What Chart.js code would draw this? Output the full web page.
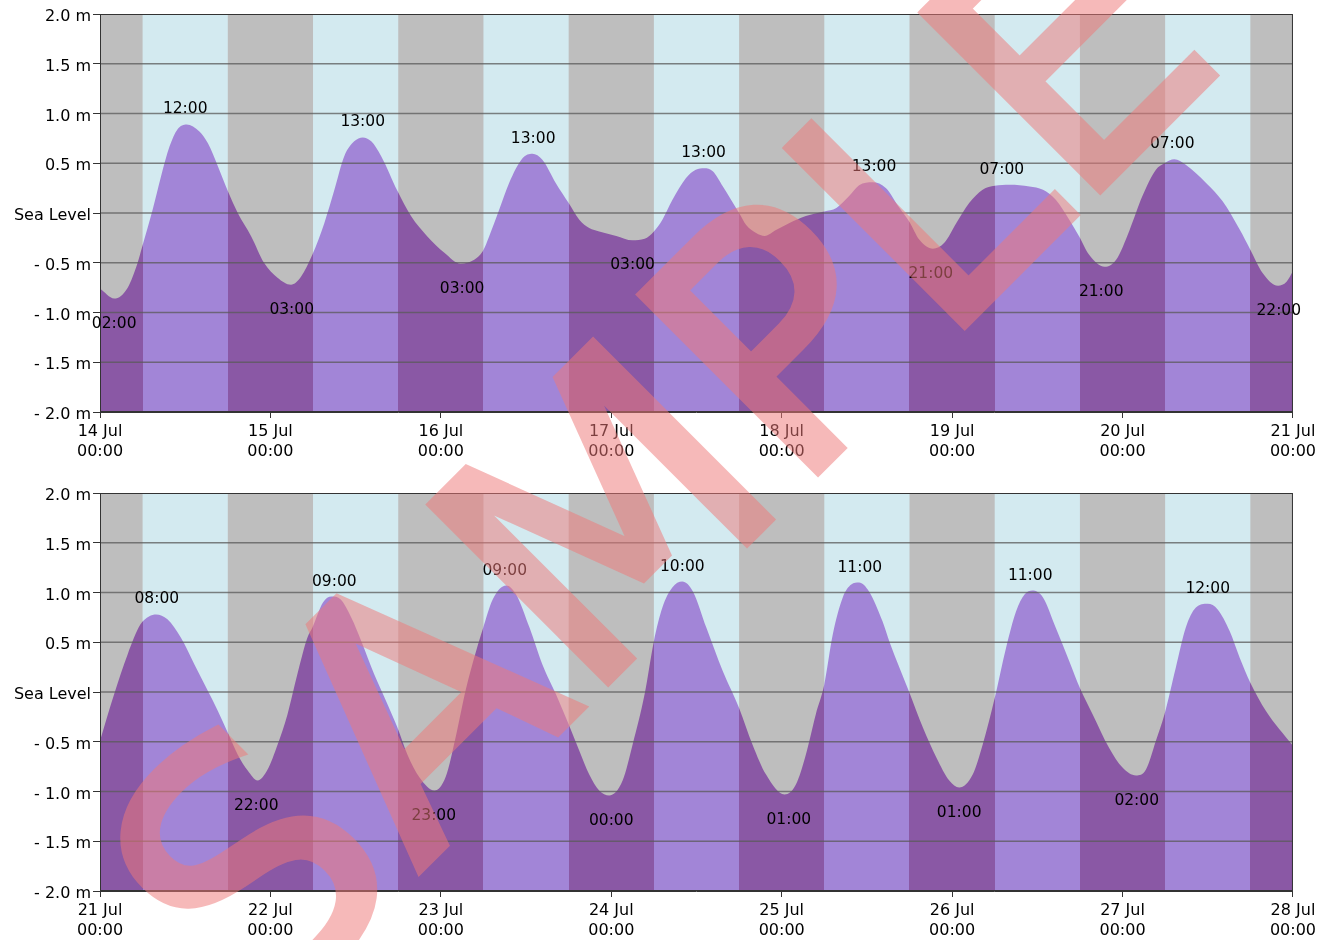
<!DOCTYPE html>
<html>
<head>
<meta charset="utf-8">
<title>Tide chart</title>
<script src="https://cdn.jsdelivr.net/npm/chart.js@4.4.1/dist/chart.umd.min.js"></script>
<style>
  html, body { margin: 0; padding: 0; background: #fff; width: 1319px; height: 940px; overflow: hidden; }
  canvas { position: absolute; left: 0; }
  #week1 { top: 0; }
  #week2 { top: 479px; }
  #mark { position: absolute; left: 0; top: 0; pointer-events: none; }
</style>
</head>
<body>
<canvas id="week1" width="1319" height="479"></canvas>
<canvas id="week2" width="1319" height="479"></canvas>
<svg id="mark" width="1319" height="940">
  <g opacity="0.52">
    <text transform="translate(259 1031) rotate(-45)" font-family="DejaVu Sans" font-size="344"
          fill="rgb(238,122,122)" stroke="rgb(238,122,122)" stroke-width="8">SAMPLE</text>
  </g>
</svg>
<script>
// ---------------- data ----------------
// hours counted from the first day 00:00 of each panel, level in metres
const week1Days = ["14 Jul", "15 Jul", "16 Jul", "17 Jul", "18 Jul", "19 Jul", "20 Jul", "21 Jul"];
const week2Days = ["21 Jul", "22 Jul", "23 Jul", "24 Jul", "25 Jul", "26 Jul", "27 Jul", "28 Jul"];
const dayTime = "00:00";

const yTickLabels = ["- 2.0 m", "- 1.5 m", "- 1.0 m", "- 0.5 m", "Sea Level", "0.5 m", "1.0 m", "1.5 m", "2.0 m"];

// daylight band: sunrise / sunset hour
const sunrise = 6;
const sunset = 18;

const week1Hours = [
  0, 2, 3.9, 5.3, 5.9, 7.4, 8.6, 9.8, 10.9, 12.2, 14, 15.2, 16.6, 18, 19.4, 21.3, 23.1,
  25, 26.9, 28.3, 29.9, 31.6, 33, 34.4, 35.8, 37, 38.2, 39.6, 41.9, 43.8, 46.1,
  48.5, 50.8, 52.7, 53.9, 54.8, 56.2, 57.6, 59.5, 60.9, 62.3, 64.2, 66, 67.5, 68.9, 70.3,
  72.7, 75, 76.7, 78, 79.2, 80.6, 82.5, 83.9, 85.1, 86.3, 87.7, 90, 91, 92.4, 93.6, 95.2,
  97.1, 99.4, 102, 103.7, 105.5, 106.9, 108.8, 110.7, 112.6, 114, 115.4, 117.3, 118.9,
  120.6, 122.4, 124.3, 126, 128.1, 130.9, 132.8, 134.6, 136.5, 137.9, 139.3, 141.5, 143.1,
  145, 146.8, 148.7, 149.9, 151.3, 152.9, 155.8, 158.1, 160.5, 162, 163.7, 165.9, 167.1, 168
];
const week1Levels = [
  -0.76, -0.86, -0.75, -0.5, -0.35, 0.03, 0.37, 0.67, 0.84, 0.89, 0.82, 0.7, 0.47, 0.22, 0, -0.235, -0.5,
  -0.65, -0.72, -0.64, -0.42, -0.1, 0.23, 0.57, 0.72, 0.76, 0.72, 0.57, 0.22, -0.03, -0.235,
  -0.4, -0.51, -0.47, -0.385, -0.235, 0.03, 0.3, 0.55, 0.595, 0.535, 0.3, 0.1, -0.067, -0.15, -0.185,
  -0.23, -0.275, -0.26, -0.185, -0.067, 0.13, 0.35, 0.435, 0.45, 0.42, 0.27, 0, -0.12, -0.2, -0.23, -0.17,
  -0.1, -0.03, 0.015, 0.05, 0.17, 0.28, 0.31, 0.25, 0.05, -0.09, -0.27, -0.36, -0.3,
  -0.1, 0.1, 0.234, 0.274, 0.284, 0.267, 0.234, 0.134, -0.067, -0.235, -0.42, -0.54, -0.47,
  -0.17, 0.17, 0.435, 0.5, 0.54, 0.485, 0.3, 0.117, -0.167, -0.37, -0.6, -0.73, -0.69, -0.585
];

const week2Hours = [
  0, 2, 3.9, 5.7, 6.9, 7.9, 9.5, 11.4, 13.3, 15.2, 16.6, 18, 19.4, 20.8, 22.2, 23.6,
  25, 26.4, 27.8, 29.2, 29.9, 31.4, 32.6, 33.9, 35.4, 36.8, 38.6, 40.5, 41.9, 43.3, 45, 47.1,
  48.7, 50.1, 51.5, 53, 53.9, 55.3, 57.2, 58.6, 60.5, 62.3, 64.2, 66, 67.5, 68.9, 70.3, 71.7,
  73.6, 75, 76.7, 78, 79.2, 80.6, 82, 83.5, 85.4, 87.7, 90, 91.9, 93.8, 96.4,
  98, 99.4, 100.8, 102, 103.2, 104.6, 105.8, 106.9, 108.3, 110.2, 111.2, 113.9, 115.9, 117.8, 119.6,
  121, 122.9, 124.3, 126, 127.6, 129, 130.2, 131.3, 132.8, 134.6, 136.5, 138, 139.8, 142.1,
  144, 145.9, 147.3, 148.7, 149.9, 151.5, 152.9, 154.3, 156, 157.4, 159.1, 160.5, 162, 164.2, 168
];
const week2Levels = [
  -0.49, -0.02, 0.38, 0.68, 0.76, 0.78, 0.73, 0.545, 0.277, 0.01, -0.19, -0.41, -0.63, -0.79, -0.89, -0.78,
  -0.53, -0.225, 0.18, 0.545, 0.645, 0.9, 0.96, 0.93, 0.746, 0.51, 0.18, -0.125, -0.36, -0.63, -0.86, -0.99,
  -0.85, -0.45, 0.02, 0.42, 0.63, 0.93, 1.07, 0.98, 0.645, 0.277, -0.02, -0.325, -0.59, -0.83, -0.99, -1.04,
  -0.89, -0.53, -0.02, 0.51, 0.85, 1.05, 1.11, 1.01, 0.645, 0.21, -0.16, -0.53, -0.83, -1.03,
  -0.93, -0.63, -0.225, 0.076, 0.58, 0.95, 1.08, 1.1, 1.01, 0.71, 0.5, 0.01, -0.36, -0.66, -0.89,
  -0.96, -0.83, -0.53, -0.06, 0.445, 0.81, 0.98, 1.02, 0.95, 0.645, 0.31, 0.04, -0.225, -0.56,
  -0.76, -0.84, -0.78, -0.49, -0.225, 0.244, 0.645, 0.846, 0.886, 0.83, 0.61, 0.344, 0.093, -0.19, -0.54
];

// high / low water marks with their time labels
const week1TideHours = [2, 12, 27, 37, 51, 61, 75, 85, 109, 117, 127, 141, 151, 166];
const week1TideLevels = [-0.86, 0.89, -0.72, 0.76, -0.51, 0.595, -0.275, 0.45, 0.31, -0.36, 0.28, -0.54, 0.54, -0.73];
const week1TideKind = ["L", "H", "L", "H", "L", "H", "L", "H", "H", "L", "H", "L", "H", "L"];
const week1TideText = ["02:00", "12:00", "03:00", "13:00", "03:00", "13:00", "03:00", "13:00", "13:00", "21:00", "07:00", "21:00", "07:00", "22:00"];

const week2TideHours = [8, 22, 33, 47, 57, 72, 82, 97, 107, 121, 131, 146, 156];
const week2TideLevels = [0.78, -0.89, 0.96, -0.99, 1.07, -1.04, 1.11, -1.03, 1.1, -0.96, 1.02, -0.84, 0.886];
const week2TideKind = ["H", "L", "H", "L", "H", "L", "H", "L", "H", "L", "H", "L", "H"];
const week2TideText = ["08:00", "22:00", "09:00", "23:00", "09:00", "00:00", "10:00", "01:00", "11:00", "01:00", "11:00", "02:00", "12:00"];

// ---------------- colours ----------------
const nightBg = "#bebebe";
const dayBg = "#d3eaf0";
const nightFill = "#8a58a5";
const dayFill = "#a285d7";
const gridColor = "rgba(90,90,90,0.75)";
const fontFamily = "'DejaVu Sans', Verdana, sans-serif";

Chart.defaults.font.family = fontFamily;
Chart.defaults.font.size = 16;
Chart.defaults.color = "#000";

// night / day segments over 7 days
function bandSegments() {
  const segs = [];
  for (let d = 0; d < 7; d++) {
    const h = d * 24;
    segs.push({ from: h, to: h + sunrise, day: false });
    segs.push({ from: h + sunrise, to: h + sunset, day: true });
    segs.push({ from: h + sunset, to: h + 24, day: false });
  }
  return segs;
}

// fill colour changes with the band underneath
function fillGradient(context) {
  const chart = context.chart;
  const area = chart.chartArea;
  if (!area) return nightFill;
  const xs = chart.scales.x;
  const w = area.right - area.left;
  const g = chart.ctx.createLinearGradient(area.left, 0, area.right, 0);
  bandSegments().forEach((s) => {
    const a = Math.min(1, Math.max(0, (xs.getPixelForValue(s.from) - area.left) / w));
    const b = Math.min(1, Math.max(0, (xs.getPixelForValue(s.to) - area.left) / w));
    const col = s.day ? dayFill : nightFill;
    g.addColorStop(a, col);
    g.addColorStop(b, col);
  });
  return g;
}

const bandsPlugin = {
  id: "bands",
  beforeDatasetsDraw(chart) {
    const { ctx, chartArea: a, scales } = chart;
    ctx.save();
    // night everywhere, then the day strips on top (no seams at midnight)
    ctx.fillStyle = nightBg;
    ctx.fillRect(a.left, a.top, a.right - a.left, a.bottom - a.top);
    ctx.fillStyle = dayBg;
    bandSegments().filter((s) => s.day).forEach((s) => {
      const x1 = scales.x.getPixelForValue(s.from);
      const x2 = scales.x.getPixelForValue(s.to);
      ctx.fillRect(x1, a.top, x2 - x1, a.bottom - a.top);
    });
    ctx.restore();
  },
};

// grid lines and frame go on top of the filled area
const gridPlugin = {
  id: "gridOnTop",
  afterDatasetsDraw(chart) {
    const { ctx, chartArea: a, scales } = chart;
    ctx.save();
    ctx.strokeStyle = gridColor;
    ctx.lineWidth = 1.6;
    scales.y.ticks.forEach((t) => {
      if (t.value <= -2 || t.value >= 2) return;
      const y = scales.y.getPixelForValue(t.value);
      ctx.beginPath();
      ctx.moveTo(a.left, y);
      ctx.lineTo(a.right, y);
      ctx.stroke();
    });
    ctx.strokeStyle = "#333";
    ctx.lineWidth = 1;
    ctx.strokeRect(a.left + 0.5, a.top + 0.5, a.right - a.left - 1, a.bottom - a.top - 1);
    ctx.restore();
  },
};

const tideLabelPlugin = {
  id: "tideLabels",
  afterDatasetsDraw(chart, args, opts) {
    const { ctx, scales } = chart;
    ctx.save();
    ctx.font = "15.5px " + fontFamily;
    ctx.fillStyle = "#000";
    ctx.textAlign = "center";
    ctx.textBaseline = "middle";
    opts.hours.forEach((h, i) => {
      const x = scales.x.getPixelForValue(h);
      const y = scales.y.getPixelForValue(opts.levels[i]) + (opts.kind[i] === "H" ? -15 : 25);
      ctx.fillText(opts.text[i], x, y);
    });
    ctx.restore();
  },
};

function makeChart(id, days, hours, levels, tideHours, tideLevels, tideKind, tideText) {
  const points = hours.map((h, i) => ({ x: h, y: levels[i] }));
  return new Chart(document.getElementById(id), {
    type: "line",
    data: {
      datasets: [
        {
          data: points,
          fill: "start",
          backgroundColor: fillGradient,
          borderWidth: 0,
          pointRadius: 0,
          cubicInterpolationMode: "monotone",
        },
      ],
    },
    options: {
      responsive: false,
      animation: false,
      events: [],
      layout: { padding: { top: 14, right: 24, bottom: 0, left: 0 } },
      plugins: {
        legend: { display: false },
        tooltip: { enabled: false },
        tideLabels: { hours: tideHours, levels: tideLevels, kind: tideKind, text: tideText },
      },
      scales: {
        x: {
          type: "linear",
          min: 0,
          max: 168,
          afterFit(scale) { scale.height = 67; },
          ticks: {
            stepSize: 24,
            autoSkip: false,
            maxRotation: 0,
            padding: 3,
            font: { size: 16, lineHeight: 1.3 },
            callback: (v, i) => [days[i], dayTime],
          },
          grid: { drawOnChartArea: false, tickLength: 6, color: "#333" },
          border: { color: "#333" },
        },
        y: {
          min: -2,
          max: 2,
          afterFit(scale) { scale.width = 100; },
          ticks: {
            stepSize: 0.5,
            padding: 2,
            labelOffset: 3,
            callback: (v, i) => yTickLabels[i],
          },
          grid: { drawOnChartArea: false, tickLength: 7, color: "#333" },
          border: { color: "#333" },
        },
      },
    },
    plugins: [bandsPlugin, gridPlugin, tideLabelPlugin],
  });
}

makeChart("week1", week1Days, week1Hours, week1Levels, week1TideHours, week1TideLevels, week1TideKind, week1TideText);
makeChart("week2", week2Days, week2Hours, week2Levels, week2TideHours, week2TideLevels, week2TideKind, week2TideText);
</script>
</body>
</html>
